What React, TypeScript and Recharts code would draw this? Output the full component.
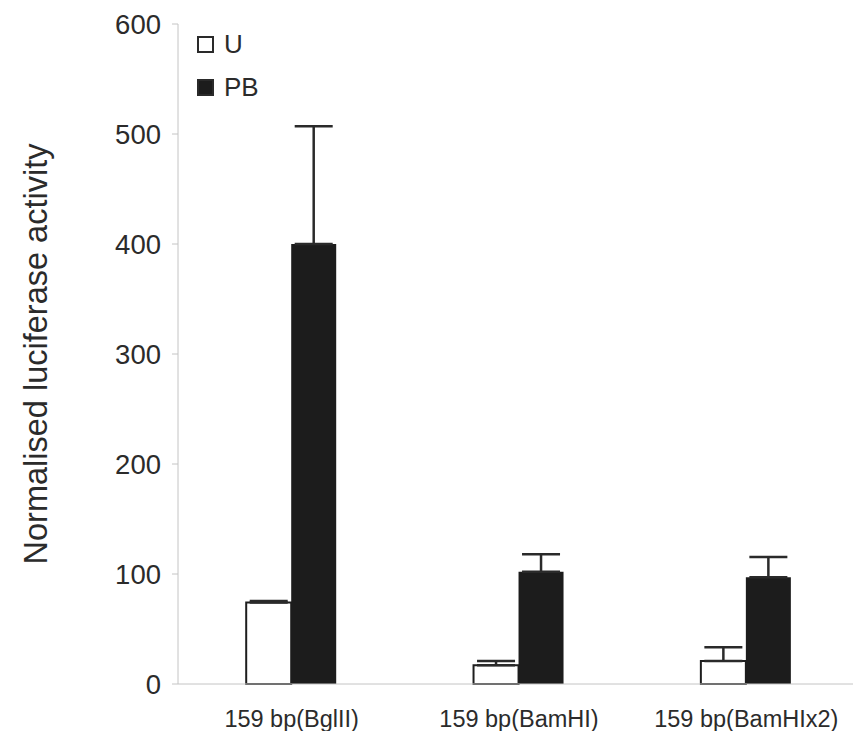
import { Bar, BarChart, ErrorBar, Legend, XAxis, YAxis } from "recharts";

const categories = ["159 bp(BglII)", "159 bp(BamHI)", "159 bp(BamHIx2)"];
const seriesNames = ["U", "PB"];
const uValues = [74, 17, 21];
const uErrors = [1.5, 4, 12.5];
const pbValues = [400, 102, 97];
const pbErrors = [107, 16, 18.5];
const yTicks = [0, 100, 200, 300, 400, 500, 600];
const boundaryTicks = [0, 1, 2, 3];

const data = categories.map((name, i) => ({
  name,
  U: uValues[i],
  uErr: [0, uErrors[i]],
  PB: pbValues[i],
  pbErr: [0, pbErrors[i]],
  pos: i + 0.5,
}));

const font = '"Liberation Sans", Arial, sans-serif';
const axisGray = "#c4c4c4";
const textColor = "#2b2b2b";

function LegendBox({ payload }: { payload?: Array<any> }) {
  if (!payload) return null;
  const items = [...payload].sort(
    (a, b) => seriesNames.indexOf(a.value) - seriesNames.indexOf(b.value)
  );
  return (
    <div style={{ fontFamily: font, color: textColor }}>
      {items.map((entry) => (
        <div
          key={entry.value}
          style={{ display: "flex", alignItems: "center", height: 43, fontSize: 26 }}
        >
          <span
            style={{
              display: "inline-block",
              width: 13,
              height: 13,
              border: "2px solid #2a2a2a",
              background: entry.payload?.fill || entry.color,
              marginRight: 10,
            }}
          />
          {entry.value}
        </div>
      ))}
    </div>
  );
}

export default function App() {
  return (
    <div
      style={{
        position: "fixed",
        left: 0,
        top: 0,
        width: 853,
        height: 731,
        overflow: "hidden",
        background: "#fff",
      }}
    >
      <BarChart
        width={860}
        height={731}
        data={data}
        margin={{ top: 24, right: 0, bottom: 0, left: 0 }}
        barCategoryGap="30%"
        barGap={0}
      >
        <XAxis
          xAxisId="a-grid"
          dataKey="pos"
          type="number"
          domain={[0, 3]}
          allowDataOverflow
          ticks={boundaryTicks}
          tick={false}
          height={1}
          axisLine={{ stroke: axisGray }}
          tickLine={{ stroke: axisGray }}
          tickSize={7}
        />
        <XAxis
          xAxisId="b-cat"
          dataKey="name"
          height={46}
          axisLine={false}
          tickLine={false}
          tickSize={0}
          tickMargin={25}
          interval={0}
          tick={{ fontSize: 23.5, fill: textColor, fontFamily: font }}
        />
        <YAxis
          width={178}
          domain={[0, 600]}
          ticks={yTicks}
          interval={0}
          axisLine={{ stroke: axisGray }}
          tickLine={{ stroke: axisGray }}
          tickSize={6}
          tickMargin={11}
          tick={{ fontSize: 27.5, fill: textColor, fontFamily: font }}
          label={{
            value: "Normalised luciferase activity",
            angle: -90,
            position: "insideLeft",
            offset: 35,
            style: { textAnchor: "middle", fontSize: 32.5, fill: textColor, fontFamily: font },
          }}
        />
        <Legend
          layout="vertical"
          align="center"
          verticalAlign="middle"
          wrapperStyle={{ left: 197, top: 23, width: 120 }}
          content={<LegendBox />}
        />
        <Bar
          xAxisId="b-cat"
          dataKey="U"
          name="U"
          fill="#ffffff"
          stroke="#1e1e1e"
          strokeWidth={2}
          isAnimationActive={false}
        >
          <ErrorBar dataKey="uErr" width={19} stroke="#2a2a2a" strokeWidth={2.5} direction="y" />
        </Bar>
        <Bar
          xAxisId="b-cat"
          dataKey="PB"
          name="PB"
          fill="#1c1c1c"
          isAnimationActive={false}
        >
          <ErrorBar dataKey="pbErr" width={19} stroke="#2a2a2a" strokeWidth={2.5} direction="y" />
        </Bar>
      </BarChart>
    </div>
  );
}
